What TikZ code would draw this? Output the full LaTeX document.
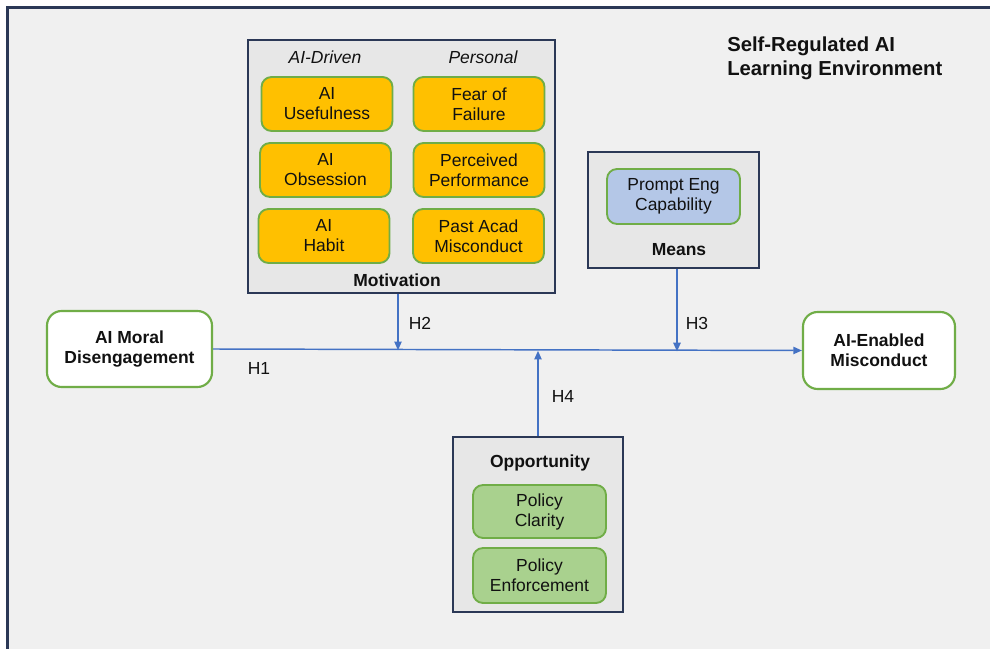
\documentclass[tikz,border=0pt]{standalone}
\usepackage{fontspec}
\setmainfont{Liberation Sans}
\usetikzlibrary{arrows.meta}
\definecolor{bgc}{HTML}{F0F0F0}
\definecolor{framec}{HTML}{2B3856}
\definecolor{grpfill}{HTML}{E7E7E7}
\definecolor{orng}{HTML}{FFC000}
\definecolor{grnb}{HTML}{70AD47}
\definecolor{bluef}{HTML}{B4C7E7}
\definecolor{greenf}{HTML}{A9D18E}
\definecolor{linec}{HTML}{4472C4}
\definecolor{txt}{HTML}{111111}
\tikzset{
  base/.style={font=\fontsize{13.1}{15}\selectfont, text=txt, align=center},
  grp/.style={draw=framec, fill=grpfill, line width=1.6pt, inner sep=0pt},
  itemb/.style={base, draw=grnb, line width=1.4pt, rounded corners=7.5pt, minimum width=98.25pt, minimum height=40.5pt, inner sep=0pt},
  orangebox/.style={itemb, fill=orng},
  bluebox/.style={itemb, fill=bluef},
  greenbox/.style={itemb, fill=greenf},
  bigb/.style={base, font=\fontsize{13.1}{15}\selectfont\bfseries, draw=grnb, fill=white, line width=1.6pt, rounded corners=11pt, inner sep=0pt},
  lbl/.style={base, font=\fontsize{13.1}{15}\selectfont\bfseries},
  hdr/.style={base, font=\fontsize{13.1}{15}\selectfont\itshape},
  hl/.style={base, font=\fontsize{13.1}{15}\selectfont},
  conn/.style={draw=linec, line width=1.1pt, -{Triangle[length=6.5pt,width=5.5pt]}}
}
\begin{document}
\begin{tikzpicture}[x=0.75pt,y=-0.75pt]
\useasboundingbox (0,0) rectangle (990,649);
\fill[white] (0,0) rectangle (990,649);
\begin{scope}
\clip (0,0) rectangle (990,649);
\draw[draw=framec, fill=bgc, line width=1.6pt] (7.5,7.5) rectangle (1005,665);
\end{scope}

% title
\node[base, font=\fontsize{15.2}{18}\selectfont\bfseries, align=left, anchor=north west, inner sep=0pt] (title) at (727,37) {Self-Regulated AI\\Learning Environment};

% Motivation group
\node[grp, minimum width=230.25pt, minimum height=189.75pt] (mot) at (401.5,166.5) {};
\node[hdr] (hdr1) at (325,57) {AI-Driven};
\node[hdr] (hdr2) at (483,57) {Personal};
\node[orangebox] (aiu) at (327,104) {AI\\Usefulness};
\node[orangebox] (fof) at (479,104) {Fear of\\Failure};
\node[orangebox] (aio) at (325.5,170) {AI\\Obsession};
\node[orangebox] (pp) at (479,170) {Perceived\\Performance};
\node[orangebox] (aih) at (324,236) {AI\\Habit};
\node[orangebox] (pam) at (478.5,236) {Past Acad\\Misconduct};
\node[lbl] (motl) at (397,280) {Motivation};

% Means group
\node[grp, minimum width=128.25pt, minimum height=87pt] (means) at (673.5,210) {};
\node[bluebox, minimum width=99.75pt, minimum height=41.25pt] (pec) at (673.5,196.5) {Prompt Eng\\Capability};
\node[lbl] (meansl) at (679,250) {Means};

% Opportunity group
\node[grp, minimum width=127.5pt, minimum height=131.25pt] (opp) at (538,524.5) {};
\node[lbl] (oppl) at (540,463) {Opportunity};
\node[greenbox, minimum width=99.75pt, minimum height=39.75pt] (pc) at (539.5,511.5) {Policy\\Clarity};
\node[greenbox, minimum width=99.75pt, minimum height=41.25pt] (pe) at (539.5,575.5) {Policy\\Enforcement};

% main nodes
\node[bigb, minimum width=123.75pt, minimum height=57pt] (amd) at (129.5,349) {AI Moral\\Disengagement};
\node[bigb, minimum width=114pt, minimum height=57.75pt] (aem) at (879,350.5) {AI-Enabled\\Misconduct};

% connectors
\draw[conn] (amd.east) -- (aem.west);
\coordinate (j2) at (398,350.2);
\coordinate (j3) at (677,351.4);
\coordinate (j4) at (538,350.8);
\draw[conn] (mot.south -| j2) -- (j2);
\draw[conn] (means.south -| j3) -- (j3);
\draw[conn] (opp.north -| j4) -- (j4);

\node[hl] (h1) at (259,368) {H1};
\node[hl] (h2) at (420,323) {H2};
\node[hl] (h3) at (697,323) {H3};
\node[hl] (h4) at (563,396) {H4};
\end{tikzpicture}
\end{document}
